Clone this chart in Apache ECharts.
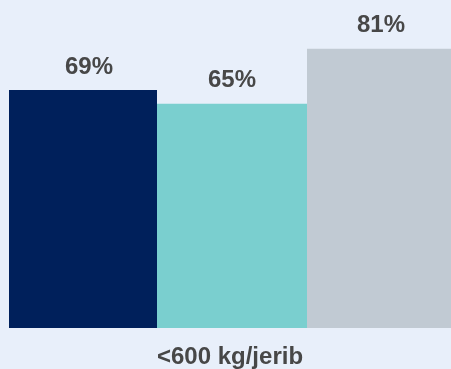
<!DOCTYPE html>
<html>
<head>
<meta charset="utf-8">
<script src="https://cdn.jsdelivr.net/npm/echarts@6/dist/echarts.min.js"></script>
<style>
  html, body { margin: 0; padding: 0; background: #E8EFFA; }
  #chart { width: 451px; height: 369px; }
</style>
</head>
<body>
<div id="chart"></div>
<script>
// Share of households per group, yield below 600 kg per jerib
const categories = ['<600 kg/jerib'];
const seriesNames = ['Group A', 'Group B', 'Group C'];
const seriesValues = [[69], [65], [81]];
const seriesColors = ['#00205B', '#7ACFCF', '#C1CAD3'];
const barWidths = [148, 150, 144];
const labelOffsets = [[6, 0], [0, 0], [2, 0]];

const chart = echarts.init(document.getElementById('chart'));

const series = seriesNames.map((name, i) => ({
  name: name,
  type: 'bar',
  data: seriesValues[i],
  barGap: '0%',
  barCategoryGap: '0%',
  barWidth: barWidths[i],
  itemStyle: { color: seriesColors[i] },
  label: {
    show: true,
    position: 'top',
    distance: 11,
    offset: labelOffsets[i],
    formatter: '{c}%',
    fontFamily: 'Liberation Sans, Arial, sans-serif',
    fontWeight: 'bold',
    fontSize: 24,
    color: '#474747'
  }
}));

chart.setOption({
  backgroundColor: '#E8EFFA',
  animation: false,
  grid: { left: 9, right: 0, top: 0, bottom: 41 },
  xAxis: {
    type: 'category',
    data: categories,
    axisLine: { show: false },
    axisTick: { show: false },
    axisLabel: {
      margin: 17,
      fontFamily: 'Liberation Sans, Arial, sans-serif',
      fontWeight: 'bold',
      fontSize: 24,
      color: '#474747'
    }
  },
  yAxis: {
    type: 'value',
    min: 0,
    max: 95.1,
    show: false
  },
  series: series
});
</script>
</body>
</html>
